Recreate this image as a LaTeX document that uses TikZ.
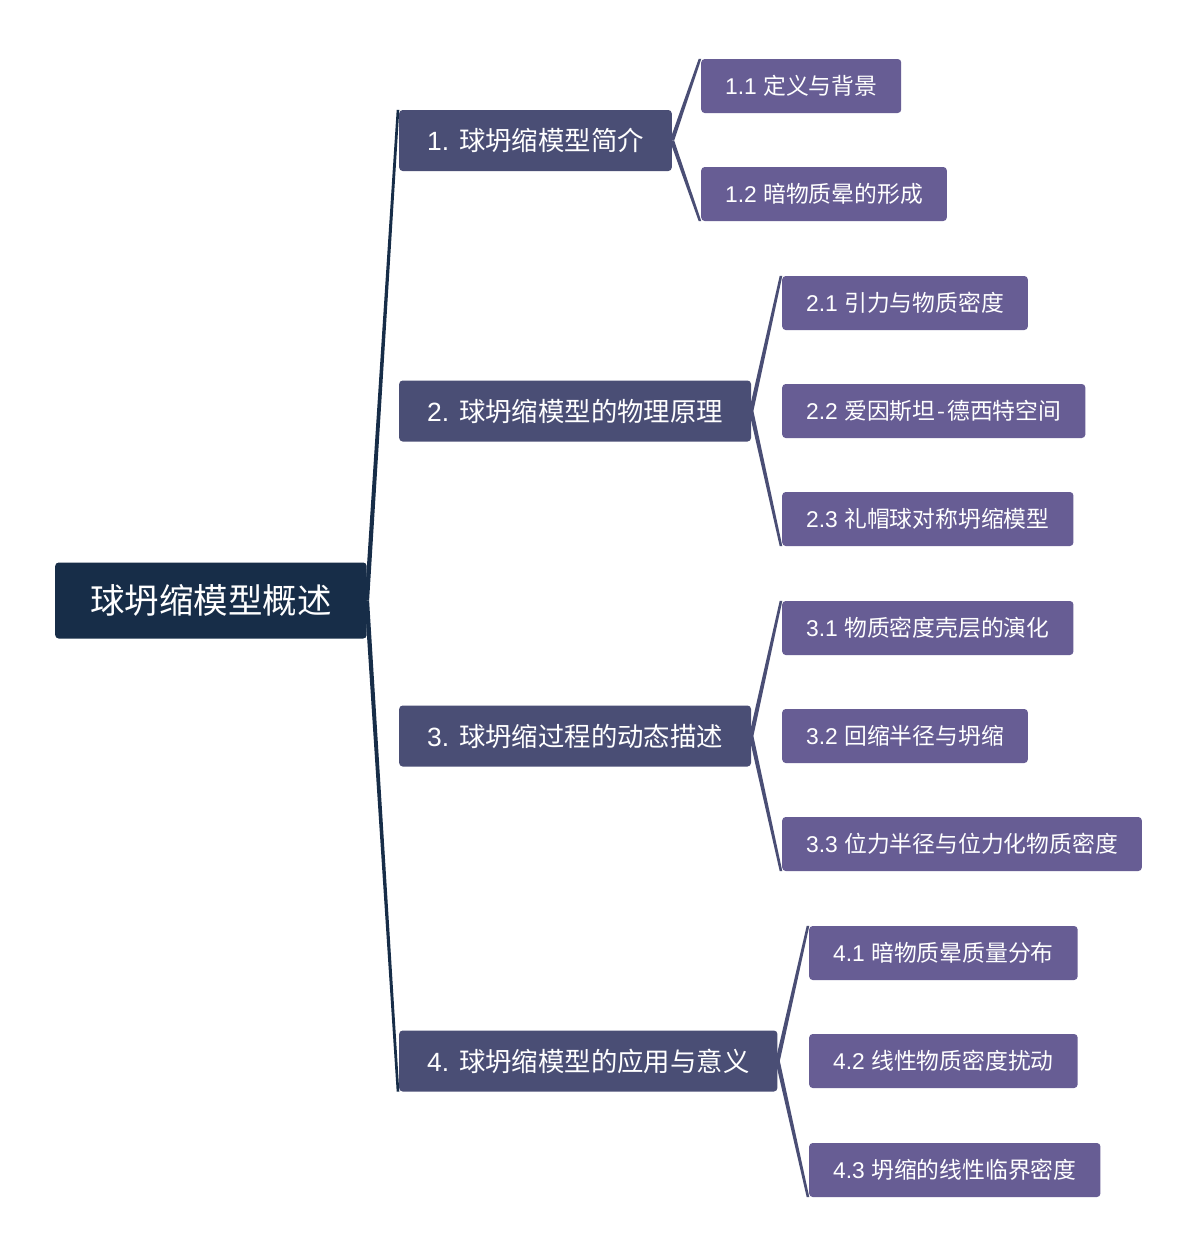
\documentclass[tikz,border=0pt]{standalone}
\usepackage{fontspec}
\setmainfont{Liberation Sans}
\newfontfamily\cjk{Noto Sans CJK SC}
\usetikzlibrary{calc,backgrounds}
\definecolor{rootc}{RGB}{23,45,72}
\definecolor{lonec}{RGB}{74,78,117}
\definecolor{ltwoc}{RGB}{103,93,148}
\tikzset{
  rootbox/.style={fill=rootc, text=white, rounded corners=3.5pt, anchor=west, inner xsep=35pt, inner ysep=0pt, minimum height=76pt, font=\fontsize{34.5}{40}\selectfont},
  lonebox/.style={fill=lonec, text=white, rounded corners=3.5pt, anchor=west, inner xsep=28pt, inner ysep=0pt, minimum height=61pt, font=\fontsize{26.4}{30}\selectfont},
  ltwobox/.style={fill=ltwoc, text=white, rounded corners=3.5pt, anchor=west, inner xsep=24pt, inner ysep=0pt, minimum height=54pt, font=\fontsize{22.8}{26}\selectfont},
  rootlink/.style={fill=rootc},
  onelink/.style={fill=lonec},
}
\newcommand\taper[3]{%
  \fill[#3] ($(#1.east)+(-2.2,0)$) -- ($(#2)+(-2.3,0)$) -- ($(#2)+(0.3,0)$) -- ($(#1.east)+(2.2,0)$) -- cycle;}
\begin{document}
\begin{tikzpicture}[x=1pt,y=-1pt]
\useasboundingbox (0,0) rectangle (1200,1256);

\node[rootbox] (root) at (55,600.5) {\cjk 球坍缩模型概述};

\node[lonebox] (n1) at (399,140.5) {1. \cjk 球坍缩模型简介};
\node[lonebox] (n2) at (399,411) {2. \cjk 球坍缩模型的物理原理};
\node[lonebox] (n3) at (399,736) {3. \cjk 球坍缩过程的动态描述};
\node[lonebox] (n4) at (399,1061) {4. \cjk 球坍缩模型的应用与意义};

\node[ltwobox] (n11) at (701,86) {1.1 \cjk 定义与背景};
\node[ltwobox] (n12) at (701,194) {1.2 \cjk 暗物质晕的形成};
\node[ltwobox] (n21) at (782,303) {2.1 \cjk 引力与物质密度};
\node[ltwobox] (n22) at (782,411) {2.2 \cjk 爱因斯坦\hspace{2pt}-\hspace{2pt}德西特空间};
\node[ltwobox] (n23) at (782,519) {2.3 \cjk 礼帽球对称坍缩模型};
\node[ltwobox] (n31) at (782,628) {3.1 \cjk 物质密度壳层的演化};
\node[ltwobox] (n32) at (782,736) {3.2 \cjk 回缩半径与坍缩};
\node[ltwobox] (n33) at (782,844) {3.3 \cjk 位力半径与位力化物质密度};
\node[ltwobox] (n41) at (809,953) {4.1 \cjk 暗物质晕质量分布};
\node[ltwobox] (n42) at (809,1061) {4.2 \cjk 线性物质密度扰动};
\node[ltwobox] (n43) at (809,1170) {4.3 \cjk 坍缩的线性临界密度};

\begin{scope}[on background layer]
\fill[white] (0,0) rectangle (1200,1256);
\taper{root}{n1.north west}{rootlink}
\taper{root}{n4.south west}{rootlink}
\taper{n1}{n11.north west}{onelink}
\taper{n1}{n12.south west}{onelink}
\taper{n2}{n21.north west}{onelink}
\taper{n2}{n23.south west}{onelink}
\taper{n3}{n31.north west}{onelink}
\taper{n3}{n33.south west}{onelink}
\taper{n4}{n41.north west}{onelink}
\taper{n4}{n43.south west}{onelink}
\end{scope}
\end{tikzpicture}
\end{document}
